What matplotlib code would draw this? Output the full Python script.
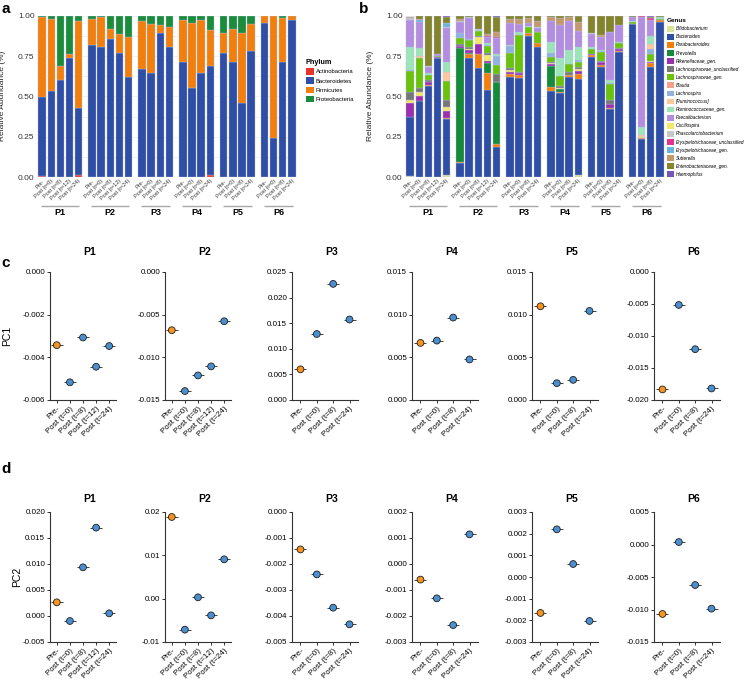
import numpy as np
import matplotlib
matplotlib.use("Agg")
import matplotlib.pyplot as plt
from matplotlib.patches import Patch
from matplotlib.ticker import MultipleLocator, FormatStrFormatter

plt.rcParams["font.family"] = ["Liberation Sans", "DejaVu Sans"]

patients = ["P1", "P2", "P3", "P4", "P5", "P6"]
long_times = ["Pre-", "Post (t=0)", "Post (t=8)", "Post (t=12)", "Post (t=24)"]
short_times = ["Pre-", "Post (t=0)", "Post (t=8)", "Post (t=24)"]
patient_times = [long_times, long_times, short_times, short_times, short_times, short_times]

# ---- panel a: phylum abundance per sample (P1 x5, P2 x5, P3..P6 x4)
phyla = ["Actinobacteria", "Bacteroidetes", "Firmicutes", "Proteobacteria"]
actinobacteria = [0.005, 0, 0, 0, 0.015,  0, 0, 0, 0, 0,  0, 0, 0, 0,
                  0, 0, 0, 0.01,  0, 0, 0, 0,  0, 0, 0, 0]
bacteroidetes = [0.49, 0.534, 0.60, 0.74, 0.41,  0.82, 0.805, 0.853, 0.766, 0.619,
                 0.667, 0.646, 0.894, 0.807,  0.714, 0.55, 0.646, 0.677,
                 0.77, 0.714, 0.46, 0.783,  0.952, 0.242, 0.714, 0.975]
firmicutes = [0.50, 0.446, 0.09, 0.02, 0.542,  0.16, 0.189, 0.064, 0.118, 0.248,
              0.298, 0.302, 0.048, 0.12,  0.261, 0.402, 0.327, 0.226,
              0.124, 0.205, 0.434, 0.163,  0.048, 0.758, 0.274, 0.025]
proteobacteria = [0.005, 0.02, 0.31, 0.24, 0.033,  0.02, 0.006, 0.083, 0.116, 0.133,
                  0.035, 0.052, 0.058, 0.073,  0.025, 0.048, 0.027, 0.087,
                  0.106, 0.081, 0.106, 0.054,  0.0, 0.0, 0.012, 0.0]
phylum_colors = ["#e8352a", "#2f4ea6", "#f27f0c", "#1a8c3a"]

# ---- panel b: genus abundance per sample
genera = ["Bifidobacterium", "Bacteroides", "Parabacteroides", "Prevotella",
          "Rikenellaceae_gen.", "Lachnospiraceae_unclassified", "Lachnospiraceae_gen.",
          "Blautia", "Lachnospira", "[Ruminococcus]", "Ruminococcaceae_gen.",
          "Faecalibacterium", "Oscillospira", "Phascolarctobacterium",
          "Erysipelotrichaceae_unclassified", "Erysipelotrichaceae_gen.",
          "Sutterella", "Enterobacteriaceae_gen.", "Haemophilus"]
bifidobacterium = [0.005, 0, 0, 0, 0.012,  0, 0, 0, 0, 0,  0, 0, 0, 0,
                   0, 0, 0, 0.01,  0, 0, 0, 0,  0, 0, 0, 0]
bacteroides = [0.365, 0.47, 0.565, 0.735, 0.35,  0.085, 0.735, 0.675, 0.538, 0.186,
               0.62, 0.613, 0.874, 0.807,  0.532, 0.518, 0.62, 0.60,
               0.745, 0.68, 0.424, 0.776,  0.946, 0.236, 0.679, 0.963]
parabacteroides = [0, 0, 0.005, 0.005, 0.005,  0.005, 0.03, 0.09, 0.108, 0.02,
                   0.02, 0.022, 0.016, 0.025,  0.023, 0.012, 0.01, 0.03,
                   0.01, 0.015, 0.006, 0.006,  0.004, 0.004, 0.026, 0.012]
prevotella = [0, 0, 0, 0, 0,  0.71, 0.005, 0, 0.062, 0.38,  0, 0, 0, 0,
              0.135, 0.015, 0, 0,  0, 0, 0, 0,  0, 0, 0, 0]
rikenellaceae = [0.09, 0.03, 0.02, 0.005, 0.04,  0.01, 0.015, 0.06, 0.012, 0.005,
                 0.012, 0.01, 0, 0,  0.01, 0, 0, 0.015,
                 0.01, 0.015, 0.02, 0.012,  0, 0, 0.005, 0]
lachno_uncl = [0.05, 0.025, 0.01, 0, 0.045,  0.01, 0.01, 0.01, 0.015, 0.05,
               0.015, 0.005, 0, 0,  0.01, 0.015, 0.015, 0.015,
               0, 0.005, 0.02, 0.005,  0, 0, 0, 0]
lachno_gen = [0.13, 0.19, 0.03, 0.005, 0.12,  0.035, 0.045, 0.03, 0.04, 0.055,
              0.09, 0.23, 0.035, 0.065,  0.03, 0.06, 0.05, 0.03,
              0.03, 0.055, 0.10, 0.03,  0.01, 0, 0.045, 0.005]
blautia = [0, 0, 0, 0, 0,  0, 0, 0, 0, 0,  0, 0, 0, 0,
           0, 0, 0, 0,  0, 0, 0, 0,  0, 0, 0, 0]
lachnospira = [0.005, 0, 0, 0, 0,  0.035, 0.005, 0, 0.01, 0.055,
               0.045, 0, 0, 0,  0.025, 0, 0, 0.01,
               0, 0.005, 0.01, 0,  0, 0, 0.03, 0]
ruminococcus = [0, 0.01, 0, 0, 0.055,  0, 0, 0, 0, 0,  0, 0, 0, 0,
                0, 0, 0, 0,  0, 0, 0, 0,  0, 0.01, 0.03, 0]
rumino_gen = [0.14, 0.05, 0.015, 0, 0.06,  0, 0, 0.005, 0.01, 0.01,
              0.008, 0.02, 0.005, 0.005,  0.07, 0.115, 0.09, 0.08,
              0.01, 0.01, 0.015, 0.006,  0.005, 0.05, 0.05, 0.01]
faecalibacterium = [0.17, 0.16, 0.04, 0.01, 0.21,  0.065, 0.13, 0, 0.04, 0.10,
                    0.135, 0.05, 0.02, 0.02,  0.13, 0.205, 0.175, 0.10,
                    0.08, 0.08, 0.30, 0.11,  0.03, 0.685, 0.10, 0.005]
oscillospira = [0.02, 0.025, 0, 0, 0.025,  0.005, 0.01, 0.04, 0.035, 0,
                0.01, 0, 0.005, 0,  0.005, 0.005, 0.005, 0.015,
                0, 0.005, 0.005, 0,  0, 0.01, 0.01, 0]
phascolarcto = [0.01, 0, 0.005, 0, 0.01,  0.01, 0.005, 0.005, 0, 0,
                0, 0, 0, 0.005,  0, 0, 0, 0,  0.005, 0, 0, 0,  0, 0, 0, 0]
erysip_uncl = [0, 0, 0, 0, 0,  0, 0, 0, 0.005, 0.01,  0, 0, 0, 0,
               0, 0, 0, 0,  0, 0, 0, 0,  0, 0.005, 0.01, 0]
erysip_gen = [0, 0.015, 0, 0, 0.02,  0, 0, 0, 0, 0,  0, 0, 0, 0,
              0, 0, 0, 0,  0, 0, 0, 0,  0, 0, 0, 0]
sutterella = [0.005, 0.005, 0, 0, 0.005,  0.01, 0, 0, 0.01, 0.025,
              0.025, 0.03, 0.03, 0.04,  0.025, 0.04, 0.03, 0.055,
              0, 0.01, 0, 0,  0, 0, 0, 0]
enterobacteriaceae = [0.005, 0.02, 0.31, 0.24, 0.035,  0.02, 0.01, 0.085, 0.115, 0.095,
                      0.02, 0.02, 0.015, 0.033,  0.005, 0.015, 0.005, 0.04,
                      0.11, 0.12, 0.10, 0.055,  0.005, 0, 0.005, 0.005]
haemophilus = [0, 0, 0, 0, 0.008,  0, 0, 0, 0, 0.009,  0, 0, 0, 0,
               0, 0, 0, 0.01,  0, 0, 0, 0,  0, 0, 0.01, 0]
genus_colors = ["#dbe39a", "#2f4ea6", "#f27f0c", "#178a3a", "#9a2fb0", "#777777",
                "#6ac30a", "#f6a089", "#8fb3de", "#fdc99b", "#9de4b8", "#b38ee0",
                "#f4e86a", "#c7c7c7", "#e3338c", "#6ab5df", "#c49a6c", "#84842a",
                "#7456b8"]

# ---- panels c, d: PCA scores per patient
pc1 = [[-0.00343, -0.00517, -0.00307, -0.00444, -0.00347],
       [-0.00682, -0.01395, -0.01212, -0.01106, -0.00577],
       [0.00599, 0.01289, 0.02268, 0.01572],
       [0.00669, 0.00696, 0.00966, 0.00475],
       [0.01098, 0.00197, 0.00236, 0.01044],
       [-0.01835, -0.00515, -0.01206, -0.0182]]
pc2 = [[0.00263, -0.00096, 0.00936, 0.01699, 0.00051],
       [0.01885, -0.00715, 0.00031, -0.00385, 0.00908],
       [-0.00144, -0.0024, -0.00368, -0.00432],
       [-0.0006, -0.00132, -0.00235, 0.00114],
       [-0.00166, 0.0022, 0.0006, -0.00203],
       [-0.01069, 0.00038, -0.00623, -0.00987]]
pc1_ylim = [(-0.006, 0.0), (-0.015, 0.0), (0.0, 0.025), (0.0, 0.015), (0.0, 0.015), (-0.020, 0.0)]
pc1_step = [0.002, 0.005, 0.005, 0.005, 0.005, 0.005]
pc1_fmt = ["%.3f"] * 6
pc2_ylim = [(-0.005, 0.020), (-0.01, 0.02), (-0.005, 0.0), (-0.003, 0.002), (-0.003, 0.003), (-0.015, 0.005)]
pc2_step = [0.005, 0.01, 0.001, 0.001, 0.001, 0.005]
pc2_fmt = ["%.3f", "%.2f", "%.3f", "%.3f", "%.3f", "%.3f"]

PRE_COLOR = "#f7941d"
POST_COLOR = "#4a8fd0"
W, H = 750, 680


def px_axes(fig, left, top, width, height):
    return fig.add_axes([left / W, 1 - (top + height) / H, width / W, height / H])


def bar_positions(groups, gap=1.55):
    pos, x = [], 0.0
    for g in groups:
        pos.append(x + np.arange(len(g)))
        x += len(g) - 1 + gap
    return pos


def stacked_panel(ax, layers, colors, ylabel):
    pos = bar_positions(patient_times)
    xs = np.concatenate(pos)
    bottom = np.zeros(len(xs))
    for vals, c in zip(layers, colors):
        vals = np.asarray(vals, dtype=float)
        m = vals > 0
        ax.bar(xs[m], vals[m], 0.78, bottom=bottom[m], color=c,
               edgecolor="#b9bfe3", linewidth=0.25, zorder=2)
        bottom += vals
    ax.set_xlim(-0.6, xs[-1] + 0.6)
    ax.set_ylim(0, 1)
    ax.set_yticks([0, 0.25, 0.5, 0.75, 1.0])
    ax.yaxis.set_major_formatter(FormatStrFormatter("%.2f"))
    ax.yaxis.set_minor_locator(MultipleLocator(0.125))
    ax.grid(axis="y", which="both", color="#ececec", lw=0.5)
    ax.set_axisbelow(True)
    for s in ax.spines.values():
        s.set_visible(False)
    ax.tick_params(axis="y", which="both", length=0, labelsize=6, pad=1.5, labelcolor="#333333")
    ax.tick_params(axis="x", length=0, pad=1)
    labels = [t for g in patient_times for t in g]
    ax.set_xticks(xs)
    ax.set_xticklabels(labels, rotation=45, ha="right", rotation_mode="anchor",
                       fontsize=4, color="#333333")
    ax.set_ylabel(ylabel, fontsize=6, color="#222222")
    ax.yaxis.set_label_coords(-0.118, 0.5)
    trans = ax.get_xaxis_transform()
    for p, name in zip(pos, patients):
        c = p.mean()
        hw = (len(p) - 1) / 2 + 0.15
        ax.plot([c - hw, c + hw], [-0.18, -0.18], transform=trans, color="#a8a8a8",
                lw=1.0, clip_on=False, solid_capstyle="butt")
        ax.text(c, -0.222, name, transform=trans, ha="center", va="center",
                fontsize=6.5, fontweight="bold")


def pca_panel(ax, values, ylim, step, fmt, title, title_pad):
    x = np.arange(len(values))
    cols = [PRE_COLOR] + [POST_COLOR] * (len(values) - 1)
    ax.scatter(x, values, marker="_", s=68, color="#222222", linewidths=0.6, zorder=2)
    ax.scatter(x, values, s=24, c=cols, edgecolors="#1e1e1e", linewidths=0.6, zorder=3)
    ax.set_xlim(-0.52, len(values) - 0.48)
    ax.set_ylim(*ylim)
    ax.set_yticks(np.arange(ylim[0], ylim[1] + step / 2, step))
    ax.yaxis.set_major_formatter(FormatStrFormatter(fmt))
    ax.set_xticks(x)
    ax.set_xticklabels(patient_times[patients.index(title)], rotation=45, ha="right",
                       rotation_mode="anchor", fontsize=5.8)
    for s in ["top", "right"]:
        ax.spines[s].set_visible(False)
    for s in ["left", "bottom"]:
        ax.spines[s].set_color("#333333")
        ax.spines[s].set_linewidth(0.8)
    ax.tick_params(direction="out", length=2.5, width=0.7, color="#333333",
                   labelsize=5.8, pad=1)
    ax.set_title(title, fontsize=7.5, fontweight="bold", x=0.6, pad=title_pad)


fig = plt.figure(figsize=(W / 100, H / 100), dpi=100)

# panel a
ax_a = px_axes(fig, 36.6, 15.7, 260.8, 161.3)
stacked_panel(ax_a, [actinobacteria, bacteroidetes, firmicutes, proteobacteria],
              phylum_colors, "Relative Abundance (%)")
fig.legend([Patch(facecolor=c) for c in phylum_colors], phyla,
           loc="upper left", bbox_to_anchor=(306 / W, 1 - 58.5 / H),
           frameon=False, fontsize=4.2, title="Phylum",
           title_fontproperties={"weight": "bold", "size": 5.2}, alignment="left",
           handlelength=1.3, handleheight=1.3, labelspacing=0.48, handletextpad=0.4,
           borderpad=0, borderaxespad=0)

# panel b
genus_layers = [bifidobacterium, bacteroides, parabacteroides, prevotella, rikenellaceae,
                lachno_uncl, lachno_gen, blautia, lachnospira, ruminococcus, rumino_gen,
                faecalibacterium, oscillospira, phascolarcto, erysip_uncl, erysip_gen,
                sutterella, enterobacteriaceae, haemophilus]
# stacking order in the bars (Oscillospira sits just above Rikenellaceae)
stack_order = [0, 1, 2, 3, 4, 12, 5, 6, 7, 8, 9, 10, 11, 13, 14, 15, 16, 17, 18]
ax_b = px_axes(fig, 404.6, 15.7, 260.8, 161.3)
stacked_panel(ax_b, [genus_layers[i] for i in stack_order],
              [genus_colors[i] for i in stack_order], "Relative Abundance (%)")
leg_b = fig.legend([Patch(facecolor=c) for c in genus_colors], genera,
                   loc="upper left", bbox_to_anchor=(667 / W, 1 - 18.5 / H),
                   frameon=False, fontsize=3.45, title="Genus",
                   title_fontproperties={"weight": "bold", "size": 4.6}, alignment="left",
                   handlelength=1.4, handleheight=1.45, labelspacing=0.5, handletextpad=0.35,
                   borderpad=0, borderaxespad=0)
for t in leg_b.get_texts():
    t.set_fontstyle("italic")

# panels c, d
lefts = [50, 165, 292, 412, 532, 654]
for i, name in enumerate(patients):
    ax_c = px_axes(fig, lefts[i], 272, 66, 128)
    pca_panel(ax_c, pc1[i], pc1_ylim[i], pc1_step[i], pc1_fmt[i], name, 12)
    ax_d = px_axes(fig, lefts[i], 512, 66, 130)
    pca_panel(ax_d, pc2[i], pc2_ylim[i], pc2_step[i], pc2_fmt[i], name, 7.5)
    if i == 0:
        ax_c.set_ylabel("PC1", fontsize=7.5)
        ax_c.yaxis.set_label_coords(-0.57, 0.5)
        ax_d.set_ylabel("PC2", fontsize=7.5)
        ax_d.yaxis.set_label_coords(-0.42, 0.5)

for letter, x, y in [("a", 2, 2), ("b", 359, 2), ("c", 1, 256), ("d", 1, 462)]:
    fig.text(x / W, 1 - y / H, letter, fontsize=11, fontweight="bold", va="top", ha="left")

fig.savefig("out.png", dpi=100)
